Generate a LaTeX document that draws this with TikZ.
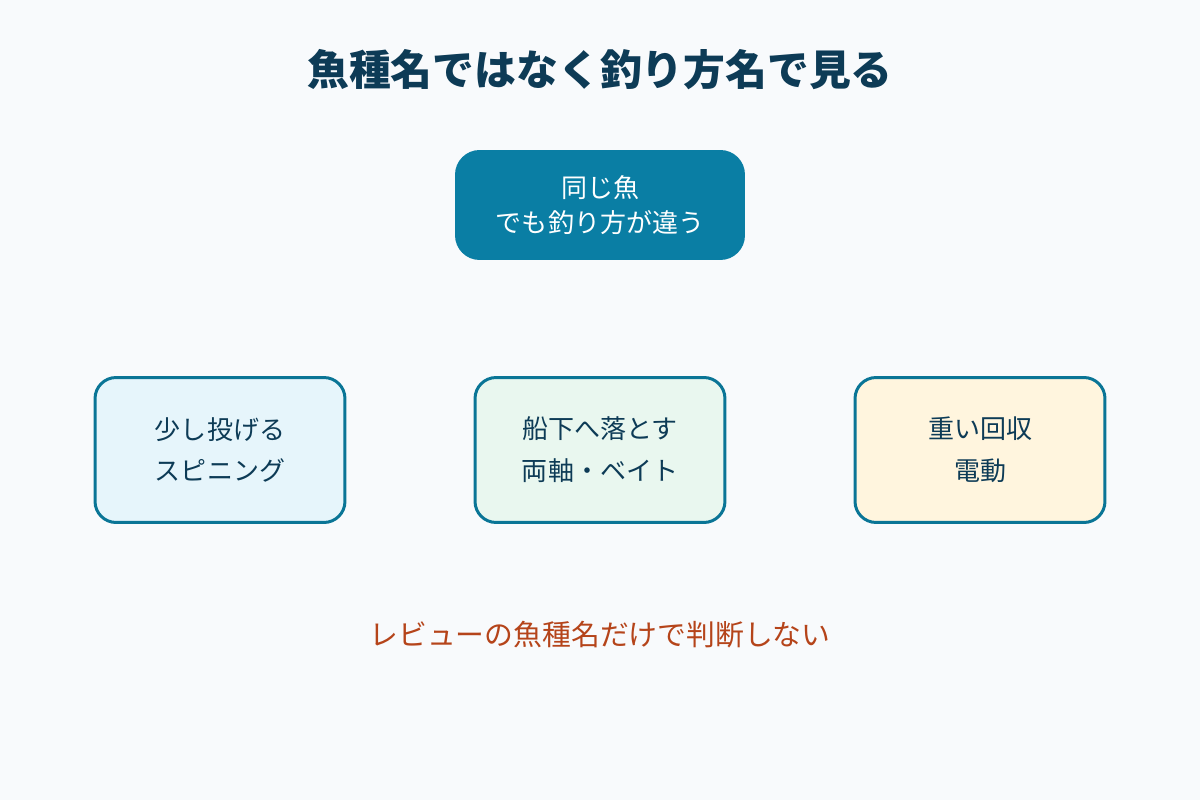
\documentclass[tikz,border=0pt]{standalone}
\usepackage{fontspec}
\setmainfont{Noto Sans CJK JP}
\usetikzlibrary{positioning}
\definecolor{navy}{HTML}{0D3B56}
\definecolor{teal}{HTML}{0A7EA4}
\definecolor{edge}{HTML}{0A7596}
\definecolor{bluefill}{HTML}{E6F5FB}
\definecolor{greenfill}{HTML}{E9F7EF}
\definecolor{yellowfill}{HTML}{FFF5DE}
\definecolor{warn}{HTML}{B5441A}
\definecolor{bg}{HTML}{F8FAFC}
\tikzset{
  method/.style={draw=edge, line width=1.7pt, rounded corners=12pt,
    minimum width=5cm, minimum height=2.9cm, align=center,
    text=navy, font=\fontsize{14.8}{23.8}\selectfont}
}
\begin{document}
\begin{tikzpicture}[x=0.02cm,y=-0.02cm]
    \fill [bg] (0,0) rectangle (1200,800);
    \useasboundingbox (0,0) rectangle (1200,800);
    \node (title) at (600,70) [text=navy, font=\fontsize{23.8}{28}\bfseries\selectfont] {魚種名ではなく釣り方名で見る};
    \node (fish) at (600,205) [fill=teal, rounded corners=14pt, minimum width=5.8cm,
        minimum height=2.2cm, align=center, text=white,
        font=\fontsize{14.8}{19.8}\selectfont] {同じ魚\\でも釣り方が違う};
    \node (cast) at (220,450) [method, fill=bluefill] {少し投げる\\スピニング};
    \node (drop) at (600,450) [method, fill=greenfill] {船下へ落とす\\両軸・ベイト};
    \node (reel) at (980,450) [method, fill=yellowfill] {重い回収\\電動};
    \node (note) at (600,635) [text=warn, font=\fontsize{16.4}{20}\selectfont] {レビューの魚種名だけで判断しない};
\end{tikzpicture}
\end{document}
